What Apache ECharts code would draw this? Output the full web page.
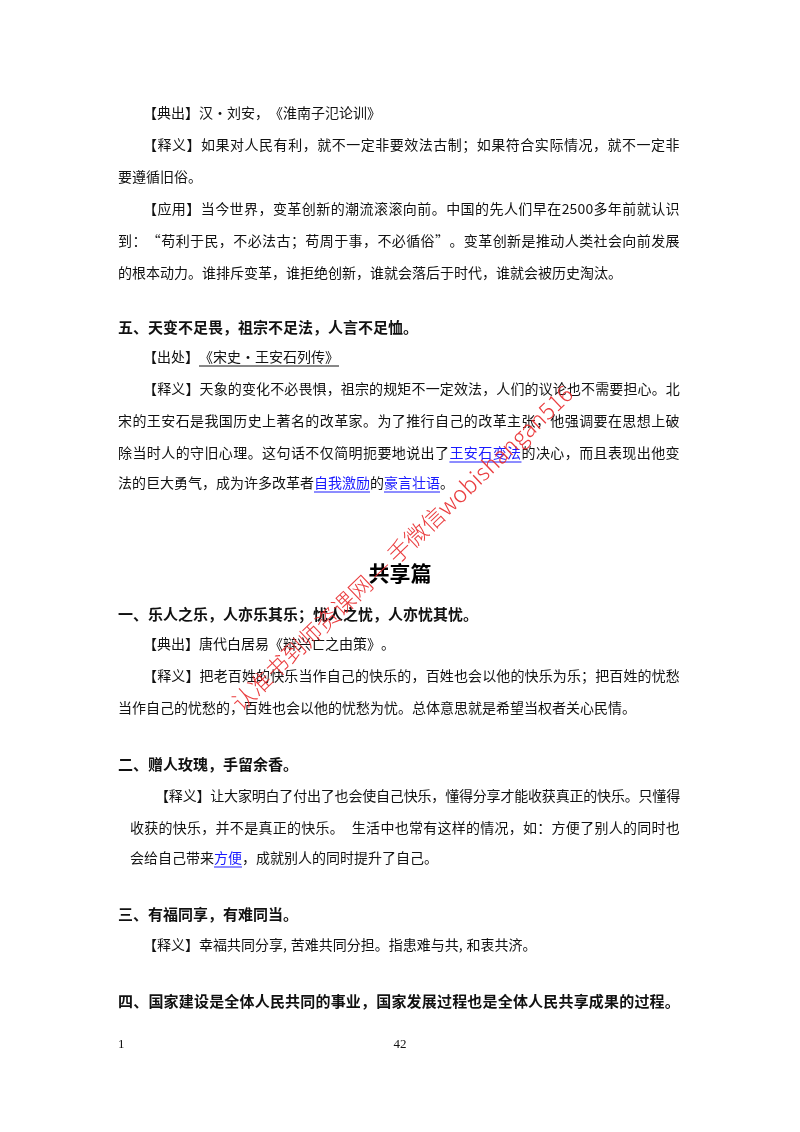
<!DOCTYPE html>
<html><head><meta charset="utf-8">
<script src="https://cdn.jsdelivr.net/npm/echarts@6/dist/echarts.min.js"></script>
<style>html,body{margin:0;background:#fff}#page{width:800px;height:1132px}</style>
</head><body><div id="page"></div>
<script>
// page text, one entry per printed line
const bodyLines = [
  '【典出】汉·刘安，《淮南子氾论训》',
  '【释义】如果对人民有利，就不一定非要效法古制；如果符合实际情况，就不一定非',
  '要遵循旧俗。',
  '【应用】当今世界，变革创新的潮流滚滚向前。中国的先人们早在2500多年前就认识',
  '到：“苟利于民，不必法古；苟周于事，不必循俗”。变革创新是推动人类社会向前发展',
  '的根本动力。谁排斥变革，谁拒绝创新，谁就会落后于时代，谁就会被历史淘汰。',
  '五、天变不足畏，祖宗不足法，人言不足恤。',
  '【出处】《宋史·王安石列传》',
  '【释义】天象的变化不必畏惧，祖宗的规矩不一定效法，人们的议论也不需要担心。北',
  '宋的王安石是我国历史上著名的改革家。为了推行自己的改革主张，他强调要在思想上破',
  '除当时人的守旧心理。这句话不仅简明扼要地说出了王安石变法的决心，而且表现出他变',
  '法的巨大勇气，成为许多改革者自我激励的豪言壮语。',
  '共享篇',
  '一、乐人之乐，人亦乐其乐；忧人之忧，人亦忧其忧。',
  '【典出】唐代白居易《辩兴亡之由策》。',
  '【释义】把老百姓的快乐当作自己的快乐的，百姓也会以他的快乐为乐；把百姓的忧愁',
  '当作自己的忧愁的，百姓也会以他的忧愁为忧。总体意思就是希望当权者关心民情。',
  '二、赠人玫瑰，手留余香。',
  '【释义】让大家明白了付出了也会使自己快乐，懂得分享才能收获真正的快乐。只懂得',
  '收获的快乐，并不是真正的快乐。 生活中也常有这样的情况，如：方便了别人的同时也',
  '会给自己带来方便，成就别人的同时提升了自己。',
  '三、有福同享，有难同当。',
  '【释义】幸福共同分享,苦难共同分担。指患难与共,和衷共济。',
  '四、国家建设是全体人民共同的事业，国家发展过程也是全体人民共享成果的过程。'
]
const linkWords = [[10, '王安石变法'], [11, '自我激励'], [11, '豪言壮语'], [20, '方便']]
const underlineWords = [[7, '《宋史·王安石列传》']]
const footerLeft = '1'
const footerPage = '42'
const watermark = '认准书到师资课网 — 手微信wobishangan516'

// layout: [y, x0, x1 (null = not justified), kind]
const layout = [
  [113, 143, null, 'b'], [145, 143, 680, 'b'], [177, 118, null, 'b'],
  [209, 143, 680, 'b'], [241, 118, 680, 'b'], [273, 118, null, 'b'],
  [327, 118, null, 'h'], [357, 143, null, 'b'], [389, 143, 680, 'b'],
  [421, 118, 680, 'b'], [453, 118, 680, 'b'], [483, 118, null, 'b'],
  [573, 400, null, 't'], [614, 118, null, 'h'], [644, 143, null, 'b'],
  [676, 143, 680, 'b'], [708, 118, null, 'b'], [764, 118, null, 'h'],
  [796, 155, 680, 'b'], [828, 130, 680, 'b'], [858, 130, null, 'b'],
  [914, 118, null, 'h'], [945, 143, null, 'b'], [1001, 118, 680, 'h']
]

const FONT = '"Noto Sans CJK SC", sans-serif'
const styles = {
  b: { size: 14, weight: 'normal' },
  h: { size: 15, weight: 'bold' },
  t: { size: 21, weight: 'bold' }
}

function charWeight (c) {
  return /[\x20-\x7e]/.test(c) ? 0.55 : 1
}

function markRanges (list, idx) {
  const out = []
  list.filter(l => l[0] === idx).forEach(l => {
    const s = bodyLines[idx].indexOf(l[1])
    out.push([s, s + l[1].length])
  })
  return out
}

const elements = []
bodyLines.forEach((line, idx) => {
  const [y, x0, x1, kind] = layout[idx]
  const st = styles[kind]
  if (kind === 't') {
    elements.push({ type: 'text', x: x0, y: y, style: { text: line, font: `${st.weight} ${st.size}px ${FONT}`, fill: '#000', align: 'center', verticalAlign: 'middle' } })
    return
  }
  const chars = Array.from(line)
  const total = chars.reduce((s, c) => s + charWeight(c), 0)
  const step = x1 ? (x1 - x0) / total : st.size
  const links = markRanges(linkWords, idx)
  const unders = markRanges(underlineWords, idx)
  const xs = []
  let x = x0
  chars.forEach((c, i) => {
    xs.push(x)
    const isLink = links.some(r => i >= r[0] && i < r[1])
    elements.push({ type: 'text', x: x, y: y, style: { text: c, font: `${st.weight} ${st.size}px ${FONT}`, fill: isLink ? '#1a1aff' : '#111', verticalAlign: 'middle' } })
    x += charWeight(c) * step
  })
  xs.push(x)
  links.concat(unders).forEach((r, k) => {
    const isLink = k < links.length
    elements.push({ type: 'line', shape: { x1: xs[r[0]], y1: y + 9, x2: xs[r[1]], y2: y + 9 }, style: { stroke: isLink ? '#1a1aff' : '#111', lineWidth: 1 } })
  })
})

elements.push({ type: 'text', x: 118, y: 1045, style: { text: footerLeft, font: '13px "Liberation Serif", serif', fill: '#111', verticalAlign: 'middle' } })
elements.push({ type: 'text', x: 400, y: 1045, style: { text: footerPage, font: '13px "Liberation Serif", serif', fill: '#111', align: 'center', verticalAlign: 'middle' } })
elements.push({
  type: 'text', x: 402, y: 548, rotation: 0.76, z: 10,
  style: { text: watermark, font: `300 23px ${FONT}`, fill: '#e8282a', opacity: 0.9, align: 'center', verticalAlign: 'middle' }
})

const chart = echarts.init(document.getElementById('page'), null, { renderer: 'canvas' })
chart.setOption({ backgroundColor: '#fff', graphic: { elements } })
</script></body></html>
